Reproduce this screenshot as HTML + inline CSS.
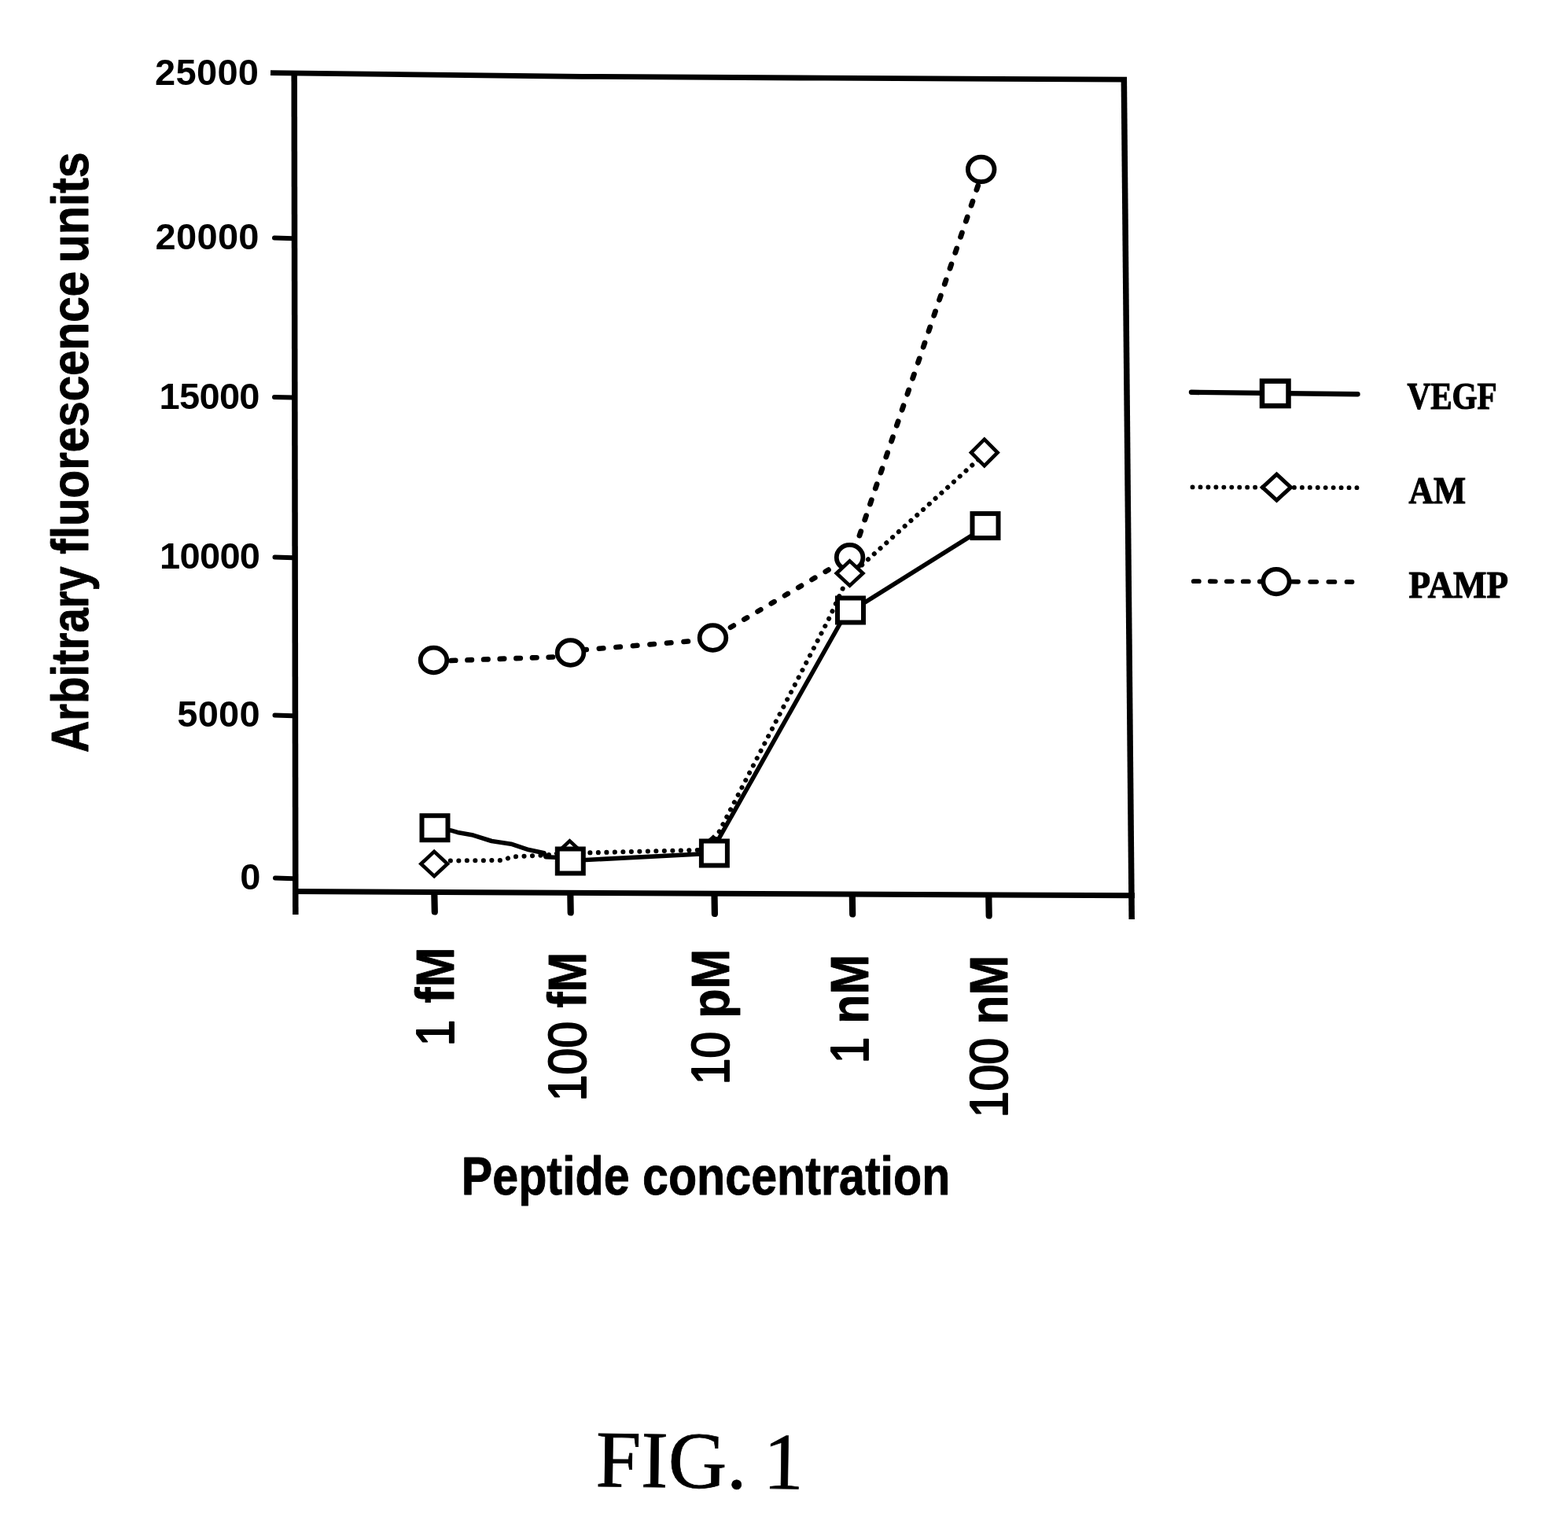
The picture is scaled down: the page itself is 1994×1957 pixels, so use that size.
<!DOCTYPE html>
<html lang="en">
<head>
<meta charset="utf-8">
<title>FIG. 1</title>
<style>
  html, body { margin: 0; padding: 0; background: #ffffff; }
  body { width: 1994px; height: 1957px; overflow: hidden; }
  svg { display: block; }
  .sans  { font-family: "Liberation Sans", sans-serif; font-weight: bold; fill: #000; }
  .slab  { font-family: "Liberation Serif", serif; font-weight: bold; fill: #000; stroke: #000; stroke-width: 1.2px; }
  .thick { stroke: #000; stroke-width: 0.8px; stroke-linejoin: round; }
  .serif { font-family: "Liberation Serif", serif; fill: #000; }
  .ax    { stroke: #000; fill: none; }
  .mk    { stroke: #000; fill: #fff; }
</style>
</head>
<body>
<svg width="1994" height="1957" viewBox="0 0 1994 1957">
  <rect x="0" y="0" width="1994" height="1957" fill="#ffffff"/>

  <!-- ===== plot frame ===== -->
  <g class="ax">
    <polyline points="344,92.6 740,97.3 1050,99.2 1433,101.2" stroke-width="6.8"/>
    <line x1="374.2" y1="90" x2="375.8" y2="1163" stroke-width="7.5"/>
    <line x1="1429.3" y1="98" x2="1439.2" y2="1169" stroke-width="7.5"/>
    <line x1="372" y1="1133.6" x2="1443" y2="1138.8" stroke-width="7"/>
    <!-- y ticks -->
    <g stroke-width="6" stroke-linecap="round">
      <line x1="349" y1="302.6" x2="373" y2="303.2"/>
      <line x1="349" y1="505" x2="373" y2="505.6"/>
      <line x1="349.5" y1="708.6" x2="373" y2="709.2"/>
      <line x1="349.5" y1="909.6" x2="373" y2="910.2"/>
      <line x1="350" y1="1116.6" x2="373" y2="1117.2"/>
    </g>
    <!-- x ticks -->
    <g stroke-width="8.2" stroke-linecap="round">
      <line x1="552.3" y1="1136" x2="552.8" y2="1159.5"/>
      <line x1="725.3" y1="1136" x2="725.7" y2="1160.5"/>
      <line x1="908.5" y1="1137" x2="908.9" y2="1162"/>
      <line x1="1083.8" y1="1138" x2="1084.2" y2="1162.5"/>
      <line x1="1257.3" y1="1139" x2="1257.7" y2="1164.5"/>
    </g>
  </g>

  <!-- ===== y tick labels ===== -->
  <g class="sans" font-size="47" text-anchor="end" letter-spacing="0.3">
    <text x="329.3" y="107.6">25000</text>
    <text x="329.8" y="316.9">20000</text>
    <text x="329.8" y="519.9" letter-spacing="-0.7">15000</text>
    <text x="330.3" y="722.8" letter-spacing="-0.7">10000</text>
    <text x="331" y="923.5">5000</text>
    <text x="331.8" y="1131">0</text>
  </g>

  <!-- ===== y axis title ===== -->
  <g transform="translate(111.8 958.5) rotate(-90) scale(1 1.17)" class="sans thick" font-size="57.5">
    <text x="1.4" y="0" textLength="236.7" lengthAdjust="spacingAndGlyphs">Arbitrary</text>
    <text x="253.8" y="0" textLength="359.8" lengthAdjust="spacingAndGlyphs">fluorescence</text>
    <text x="624.2" y="0" textLength="141" lengthAdjust="spacingAndGlyphs">units</text>
  </g>

  <!-- ===== x tick labels (rotated) ===== -->
  <g class="sans thick" font-size="61" text-anchor="end">
    <g transform="translate(576.8 1204.5) rotate(-90) scale(1 1.112)"><text x="0" y="0"><tspan font-weight="normal" stroke-width="1.7">1</tspan><tspan dx="4"> fM</tspan></text></g>
    <g transform="translate(744.5 1210.7) rotate(-90) scale(1 1.112)"><text x="0" y="0"><tspan font-weight="normal" stroke-width="1.7">100</tspan> fM</text></g>
    <g transform="translate(927 1206.7) rotate(-90) scale(1 1.112)"><text x="0" y="0"><tspan font-weight="normal" stroke-width="1.7">10</tspan> pM</text></g>
    <g transform="translate(1104.2 1213.6) rotate(-90) scale(1 1.112)"><text x="0" y="0"><tspan font-weight="normal" stroke-width="1.7">1</tspan> nM</text></g>
    <g transform="translate(1281 1214.7) rotate(-90) scale(1 1.112)"><text x="0" y="0"><tspan font-weight="normal" stroke-width="1.7">100</tspan> nM</text></g>
  </g>

  <!-- ===== x axis title ===== -->
  <g transform="translate(586.8 1519) scale(1 1.154)">
    <text class="sans thick" font-size="59.2" x="0" y="0">Peptide concentration</text>
  </g>

  <!-- ===== data: PAMP (dashed, circles) ===== -->
  <g class="ax" stroke-width="6.6" stroke-linecap="round">
    <line x1="551.5" y1="840.8" x2="725.5" y2="834.7" stroke-dasharray="5.5 15.15" stroke-dashoffset="-1.65"/>
    <line x1="725.5" y1="827.7" x2="906.5" y2="813" stroke-dasharray="5.5 16.1" stroke-dashoffset="6.75"/>
    <line x1="906.5" y1="811" x2="1080.6" y2="708.7" stroke-dasharray="4.5 15.5" stroke-dashoffset="13.9"/>
    <line x1="1083.6" y1="708.7" x2="1250.7" y2="215.4" stroke-width="6.8" stroke-dasharray="5.6 15.5" stroke-dashoffset="13"/>
  </g>
  <g class="mk" stroke-width="5.8">
    <ellipse cx="551.5" cy="839.5" rx="16.8" ry="15.8"/>
    <ellipse cx="725.5" cy="830" rx="16.8" ry="15.8"/>
    <ellipse cx="906.5" cy="811" rx="16.8" ry="15.8"/>
    <ellipse cx="1080.6" cy="708.7" rx="16.8" ry="15.8"/>
    <ellipse cx="1247.7" cy="215.4" rx="16.8" ry="15.8"/>
  </g>

  <!-- ===== data: AM (dotted, diamonds) ===== -->
  <g class="ax" stroke-width="6" stroke-linecap="round" stroke-dasharray="0.1 10.4">
    <polyline points="552.2,1098.5 572,1094.5 639,1094 651,1089.5 690,1087.5 724.5,1085 903,1080.5 920,1047 1054,787 1080.6,729"/>
    <line x1="1080.6" y1="732.5" x2="1251.8" y2="577.5"/>
  </g>
  <g class="mk" stroke-width="4.6" stroke-linejoin="miter">
    <polygon points="552.2,1082.9 569.0,1098.5 552.2,1114.1 535.4,1098.5"/>
    <polygon points="724.5,1069.4 741.3,1085 724.5,1100.6 707.7,1085"/>
    <polygon points="907,1064.4 923.8,1080 907,1095.6 890.2,1080"/>
    <polygon points="1080.6,713.4 1097.4,729 1080.6,744.6 1063.8,729"/>
    <polygon points="1251.8,558.7 1268.6,575.5 1251.8,592.3 1235.0,575.5"/>
  </g>

  <!-- ===== data: VEGF (solid, squares) ===== -->
  <g class="ax" stroke-width="5.6" stroke-linejoin="round">
    <polyline points="553,1053 573.2,1055.9 581.9,1058.4 601.7,1062.1 625.2,1069.5 649.9,1073.2 672.2,1080.6 692,1084.8 694,1089.8 725.3,1091"/>
    <polyline points="725.3,1094.5 904.5,1085.3"/>
    <polyline points="904.8,1083 1077.8,776"/>
    <polyline points="1081.5,777.5 1253,670.1"/>
  </g>
  <g class="mk" stroke-width="6">
    <rect x="536.5" y="1037.2" width="33" height="31"/>
    <rect x="708.8" y="1079.5" width="33" height="31"/>
    <rect x="891.9" y="1069.5" width="33" height="31"/>
    <rect x="1065.0" y="760.5" width="33" height="31"/>
    <rect x="1236.5" y="653.1" width="33" height="31"/>
  </g>

  <!-- ===== legend ===== -->
  <g class="ax" stroke-linecap="round">
    <line x1="1515" y1="498.8" x2="1726.5" y2="501.2" stroke-width="6.4"/>
    <line x1="1516.5" y1="619.4" x2="1725.5" y2="620.2" stroke-width="5.8" stroke-dasharray="0.1 9.85"/>
    <line x1="1517.8" y1="739.2" x2="1607" y2="739.5" stroke-width="5.8" stroke-dasharray="7 14"/>
    <line x1="1643" y1="739.7" x2="1719.5" y2="740" stroke-width="5.8" stroke-dasharray="8 15.2"/>
  </g>
  <rect class="mk" stroke-width="6.5" x="1605" y="484.6" width="33.5" height="31.5"/>
  <polygon class="mk" stroke-width="5" points="1623.5,603.2 1641.5,619.7 1623.5,636.2 1605.5,619.7"/>
  <ellipse class="mk" stroke-width="5.8" cx="1623" cy="739.6" rx="16.6" ry="15.8"/>

  <g class="slab" font-size="49">
    <text x="1789.5" y="520.3" textLength="114" lengthAdjust="spacingAndGlyphs">VEGF</text>
    <text x="1791.5" y="640" textLength="72.5" lengthAdjust="spacingAndGlyphs">AM</text>
    <text x="1791.5" y="759.8" textLength="126.5" lengthAdjust="spacingAndGlyphs">PAMP</text>
  </g>

  <!-- ===== caption ===== -->
  <g class="serif" font-size="102.5" transform="rotate(0.8 757.2 1889.9)" stroke="#000" stroke-width="0.7">
    <text x="757.2" y="1889.9" textLength="192.5" lengthAdjust="spacingAndGlyphs">FIG.</text>
    <text x="970.2" y="1889.9">1</text>
  </g>
</svg>
</body>
</html>
